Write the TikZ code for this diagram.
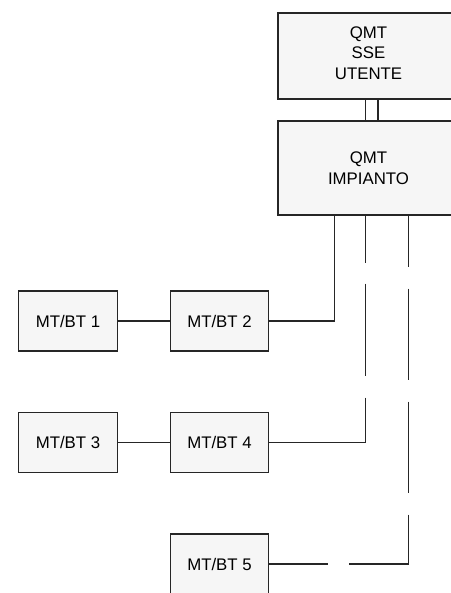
\documentclass[tikz,border=0pt]{standalone}
\usepackage{fontspec}
\setmainfont{Liberation Sans}
\usepackage{tikz}
\usetikzlibrary{positioning}

\begin{document}
\begin{tikzpicture}[
    x=1pt, y=-1pt,
    font=\fontsize{16.8}{20.5}\selectfont,
    panel/.style={draw=black!85, fill=gray!7, line width=1.3pt, align=center,
      inner sep=0pt},
    cabin/.style={panel, minimum width=98.5pt, minimum height=60pt},
    wire/.style={draw=black!85, line width=1.3pt}
  ]
    \useasboundingbox (0,0) rectangle (450,593);
    % quadri MT
    \node[panel, minimum width=181pt, minimum height=86pt] (sse) at (368.5,56)
      {QMT\\SSE\\UTENTE\\[-14pt]};
    \node[panel, minimum width=181pt, minimum height=94pt] (imp) at (368.5,168)
      {QMT\\IMPIANTO};
    % cabine MT/BT
    \node[cabin] (mt1) at (68,321) {MT/BT 1};
    \node[cabin] (mt2) at (219.5,321) {MT/BT 2};
    \node[cabin] (mt3) at (68,442.5) {MT/BT 3};
    \node[cabin] (mt4) at (219.5,442.5) {MT/BT 4};
    \node[cabin] (mt5) at (219.5,564) {MT/BT 5};
    % collegamenti
    \draw[wire] ([xshift=-3pt]sse.south) -- ([xshift=-3pt]imp.north);
    \draw[wire] ([xshift=9.5pt]sse.south) -- ([xshift=9.5pt]imp.north);
    \draw[wire] (mt1) -- (mt2);
    \draw[wire] (mt3) -- (mt4);
    \draw[wire] ([xshift=-34pt]imp.south) |- (mt2.east);
    \draw[wire, dash pattern=on 47pt off 21pt on 92pt off 22pt on 200pt]
      ([xshift=-3pt]imp.south) |- (mt4.east);
    \draw[wire, dash pattern=on 51pt off 22pt on 91pt off 22pt on 91pt off 22pt
      on 109pt off 21pt on 100pt]
      ([xshift=40pt]imp.south) |- (mt5.east);
  \end{tikzpicture}
\end{document}
